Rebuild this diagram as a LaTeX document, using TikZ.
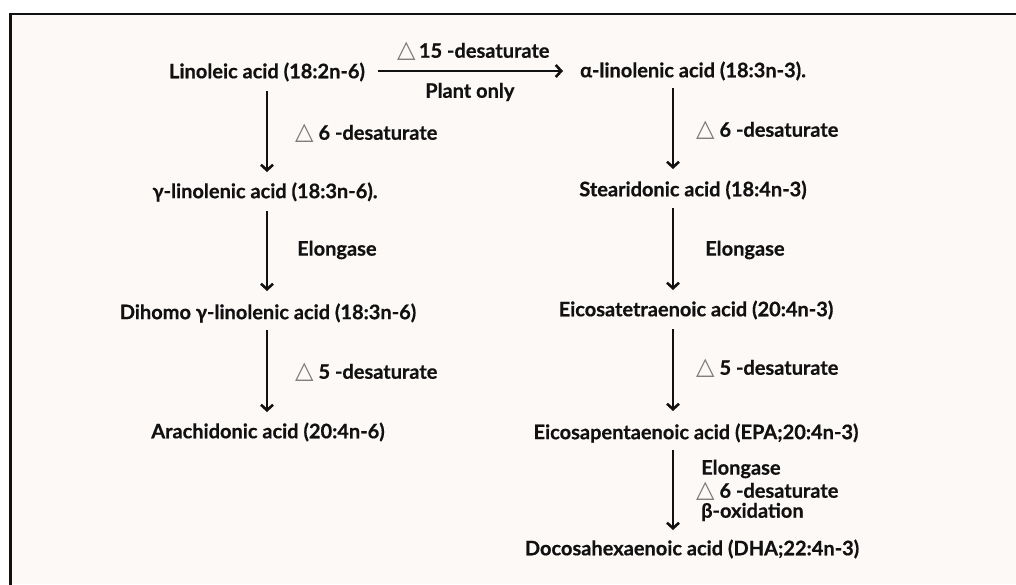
\documentclass[tikz,border=0pt]{standalone}
\usepackage{fontspec}
\setmainfont{Lato}[BoldFeatures={FakeBold=0.6}]
\newfontfamily\symfont{DejaVu Sans}
\usetikzlibrary{arrows.meta}
\definecolor{paper}{HTML}{FDF9F6}
\definecolor{ink}{HTML}{111111}
\definecolor{trigray}{HTML}{7A7A7A}
\newcommand{\tri}{\raisebox{0.5pt}{\symfont\color{trigray}\fontsize{24}{24}\selectfont △}}
\tikzset{
  acid/.style={font=\bfseries\fontsize{20}{23}\selectfont, text=ink, inner sep=2pt},
  lab/.style={font=\bfseries\fontsize{20}{23}\selectfont, text=ink, inner sep=0pt, anchor=west},
  flow/.style={draw=ink, line width=2.6pt, -{Straight Barb[length=5.5pt,width=12pt]}},
}
\begin{document}
\begin{tikzpicture}[x=1pt,y=-1pt]
\useasboundingbox (0,0) rectangle (1016,584);
\fill[white] (0,0) rectangle (1016,584);
\fill[paper] (10.5,14) rectangle (1016,584);
\draw[ink, line width=2.5pt] (10.5,700) -- (10.5,14) -- (1100,14);

% left column
\node[acid] (la) at (267,72) {Linoleic acid (18:2n-6)};
\node[acid] (gla) at (265,192) {γ-linolenic acid (18:3n-6).};
\node[acid] (dgla) at (268,313) {Dihomo γ-linolenic acid (18:3n-6)};
\node[acid] (aa) at (268,432) {Arachidonic acid (20:4n-6)};

% right column
\node[acid] (ala) at (693,71) {α-linolenic acid (18:3n-3).};
\node[acid] (sda) at (693,190) {Stearidonic acid (18:4n-3)};
\node[acid] (eta) at (696,310) {Eicosatetraenoic acid (20:4n-3)};
\node[acid] (epa) at (696,433) {Eicosapentaenoic acid (EPA;20:4n-3)};
\node[acid] (dha) at (692,549) {Docosahexaenoic acid (DHA;22:4n-3)};

% coordinates for arrow ends
\coordinate (a1s) at (267,91); \coordinate (a1e) at (267,172);
\coordinate (a2s) at (267,211); \coordinate (a2e) at (267,291);
\coordinate (a3s) at (267,330); \coordinate (a3e) at (267,412);
\coordinate (b1s) at (673,88); \coordinate (b1e) at (673,169);
\coordinate (b2s) at (673,208); \coordinate (b2e) at (673,290);
\coordinate (b3s) at (673,329); \coordinate (b3e) at (673,411);
\coordinate (b4s) at (673,450); \coordinate (b4e) at (673,530);
\coordinate (hs) at (378,71); \coordinate (he) at (563,71);

\draw[flow] (hs) -- (he);
\draw[flow] (a1s) -- (a1e);
\draw[flow] (a2s) -- (a2e);
\draw[flow] (a3s) -- (a3e);
\draw[flow] (b1s) -- (b1e);
\draw[flow] (b2s) -- (b2e);
\draw[flow] (b3s) -- (b3e);
\draw[flow] (b4s) -- (b4e);

% labels
\node[lab] (h1) at (397,51) {\tri\,15 -desaturate};
\node[lab] (h2) at (425,92) {Plant only};
\node[lab] (l1) at (295,133) {\tri\ 6 -desaturate};
\node[lab] (l2) at (297,250) {Elongase};
\node[lab] (l3) at (295,372) {\tri\ 5 -desaturate};
\node[lab] (r1) at (696,130) {\tri\ 6 -desaturate};
\node[lab] (r2) at (705,250) {Elongase};
\node[lab] (r3) at (696,368) {\tri\ 5 -desaturate};
\node[lab] (r4) at (701,469) {Elongase};
\node[lab] (r5) at (696,491) {\tri\ 6 -desaturate};
\node[lab] (r6) at (701,512) {β-oxidation};
\end{tikzpicture}
\end{document}
